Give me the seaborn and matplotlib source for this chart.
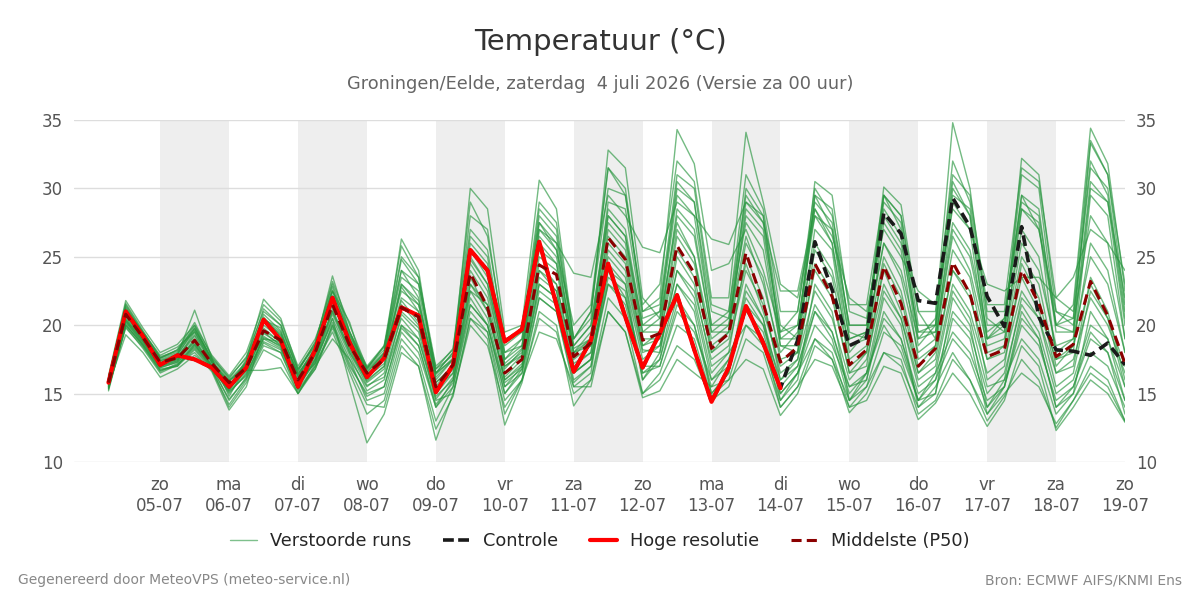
import pandas as pd
import matplotlib.pyplot as plt
import seaborn as sns
from matplotlib.lines import Line2D

# tijdstappen van 6 uur: za 4 juli 06 uur t/m zo 19 juli 00 uur
start = '2026-07-04 06:00'
n_stappen = 60
dagnamen = ['ma', 'di', 'wo', 'do', 'vr', 'za', 'zo']

# Hoge resolutie (loopt tot 14 juli 00 uur)
hoge_resolutie = [15.8, 21.0, 19.2, 17.1, 17.8, 17.5, 16.9, 15.5, 16.9, 20.4,
                  18.9, 15.5, 18.2, 22.0, 18.7, 16.2, 17.6, 21.3, 20.7, 15.1,
                  17.1, 25.5, 24.0, 18.8, 19.7, 26.1, 21.5, 16.6, 18.9, 24.5,
                  20.6, 16.9, 19.4, 22.2, 18.2, 14.4, 16.9, 21.4, 18.7, 15.4]

controle = [15.8, 21.0, 19.2, 17.1, 17.8, 17.5, 16.9, 15.5, 16.9, 20.4,
            18.9, 15.5, 18.2, 22.0, 18.7, 16.2, 17.6, 21.3, 20.7, 15.1,
            17.1, 25.5, 24.0, 18.8, 19.7, 26.1, 21.5, 16.6, 18.9, 24.5,
            20.6, 16.9, 19.4, 22.2, 18.2, 14.4, 16.9, 21.4, 18.7, 15.4,
            18.9, 26.1, 22.6, 18.5, 19.1, 28.2, 26.7, 21.8, 21.6, 29.3,
            27.2, 22.1, 19.9, 27.2, 20.6, 18.2, 18.1, 17.8, 18.7, 17.1]

middelste = [15.8, 20.8, 19.1, 17.3, 17.6, 18.9, 17.2, 15.8, 16.9, 19.6,
             18.9, 16.0, 18.0, 21.5, 18.5, 16.5, 17.5, 21.3, 20.6, 15.5,
             17.1, 23.8, 21.3, 16.5, 17.5, 24.4, 23.7, 17.7, 18.7, 26.4,
             24.8, 18.9, 19.4, 25.8, 23.8, 18.3, 19.4, 25.3, 21.6, 17.3,
             18.4, 24.5, 22.1, 17.1, 18.2, 24.3, 21.6, 17.0, 18.3, 24.6,
             22.3, 17.7, 18.2, 24.0, 21.6, 17.7, 18.6, 23.2, 20.7, 17.2]

# verstoorde runs (per dag: 06, 12, 18, 00 uur)
run_01 = [16.2, 21.6, 19.6, 17.6, 18.2, 19.8, 17.5, 15.2, 17.4, 21.2, 20.0, 16.6, 18.8, 23.0, 19.5, 16.8, 18.5, 25.8, 23.5, 16.5,
          18.0, 28.0, 27.0, 18.5, 19.5, 29.0, 27.5, 19.0, 21.0, 31.5, 30.0, 21.0, 22.0, 34.3, 31.8, 24.0, 24.5, 27.0, 24.0, 19.5,
          20.0, 28.5, 26.0, 18.0, 19.5, 26.0, 24.0, 19.0, 20.5, 34.8, 30.0, 20.5, 19.5, 27.0, 25.0, 18.0, 19.0, 30.0, 29.0, 22.0]
run_02 = [15.2, 20.0, 18.6, 16.8, 17.0, 18.5, 17.0, 15.0, 16.5, 19.0, 18.8, 16.0, 17.2, 20.5, 15.8, 11.4, 13.5, 18.0, 17.0, 11.6,
          15.0, 20.5, 19.0, 12.7, 15.8, 21.0, 20.0, 14.1, 16.0, 22.0, 20.5, 15.0, 16.0, 18.5, 17.5, 14.5, 15.5, 19.0, 18.0, 14.0,
          15.5, 17.5, 17.0, 14.0, 14.5, 17.0, 16.5, 13.1, 14.3, 16.5, 15.0, 12.6, 14.5, 18.5, 17.0, 12.3, 14.0, 16.0, 15.0, 12.9]
run_03 = [15.6, 19.3, 18.0, 16.2, 16.8, 17.8, 16.8, 16.0, 16.7, 16.7, 16.9, 15.0, 17.0, 19.0, 17.5, 14.5, 15.0, 19.5, 18.0, 14.0,
          16.0, 21.5, 20.0, 15.5, 16.5, 23.0, 22.0, 16.5, 17.5, 24.0, 22.0, 16.5, 17.5, 22.0, 20.0, 15.0, 16.5, 22.5, 20.5, 15.5,
          17.0, 21.5, 19.5, 15.0, 16.5, 20.5, 19.0, 14.5, 16.0, 19.0, 17.5, 14.0, 15.5, 20.0, 18.5, 14.5, 15.5, 19.5, 18.0, 13.5]
run_04 = [16.0, 21.0, 19.3, 17.4, 17.8, 21.1, 17.6, 14.8, 17.0, 20.5, 19.5, 16.3, 18.2, 22.5, 20.2, 16.2, 17.8, 24.0, 22.0, 15.8,
          17.0, 26.0, 24.5, 17.0, 17.8, 27.0, 26.0, 18.0, 19.0, 29.0, 28.5, 20.5, 21.0, 30.5, 29.0, 20.0, 20.0, 28.0, 26.5, 18.5,
          18.0, 29.5, 27.0, 19.0, 19.5, 30.1, 28.8, 21.0, 19.0, 27.0, 25.0, 19.0, 19.5, 32.2, 31.0, 21.0, 20.0, 28.0, 26.0, 19.0]
run_05 = [15.4, 19.8, 18.4, 16.6, 17.2, 18.0, 16.6, 13.8, 15.5, 19.5, 18.5, 15.2, 16.8, 20.0, 17.0, 15.0, 15.5, 20.0, 19.0, 14.5,
          15.0, 20.0, 18.5, 14.0, 16.0, 19.5, 19.0, 15.5, 15.5, 21.0, 19.5, 14.7, 15.2, 17.5, 16.5, 15.5, 16.0, 17.5, 16.8, 13.4,
          15.0, 18.5, 17.5, 13.6, 15.0, 18.0, 17.0, 14.0, 15.5, 18.0, 16.0, 13.5, 15.0, 16.5, 15.5, 12.8, 14.5, 17.0, 16.0, 13.0]
run_06 = [15.9, 21.3, 19.4, 17.6, 18.0, 20.0, 17.4, 15.5, 17.5, 21.9, 20.5, 16.8, 18.5, 23.6, 19.5, 16.5, 18.0, 26.3, 24.0, 16.0,
          17.5, 30.0, 28.5, 19.5, 20.0, 30.6, 28.5, 19.0, 20.5, 32.8, 31.5, 22.0, 20.5, 27.5, 25.0, 18.0, 19.5, 30.0, 28.0, 20.0,
          19.0, 30.5, 29.5, 21.0, 20.5, 28.0, 26.0, 19.5, 20.0, 32.0, 29.0, 21.0, 21.0, 29.0, 28.0, 20.0, 21.5, 34.4, 31.8, 22.5]
run_07 = [15.7, 20.6, 19.0, 17.2, 17.6, 19.2, 17.2, 15.6, 16.9, 19.8, 18.7, 15.8, 17.8, 21.8, 18.5, 16.2, 17.2, 21.5, 20.0, 15.2,
          16.8, 23.5, 21.0, 16.2, 17.5, 24.5, 23.0, 17.5, 18.5, 26.0, 24.5, 18.5, 19.0, 25.5, 23.5, 18.0, 19.0, 24.5, 21.0, 17.0,
          18.0, 24.0, 22.0, 16.5, 18.0, 24.0, 21.0, 16.5, 18.0, 24.0, 22.0, 17.5, 18.0, 23.5, 21.0, 17.5, 18.5, 23.0, 20.5, 17.0]
run_08 = [16.1, 21.5, 19.5, 17.8, 18.4, 19.5, 17.3, 15.9, 17.2, 20.8, 19.6, 16.4, 18.3, 22.8, 19.0, 16.8, 18.0, 24.8, 23.0, 16.8,
          18.3, 27.0, 25.5, 18.0, 19.0, 28.0, 26.5, 19.0, 21.0, 30.0, 29.5, 21.5, 23.0, 32.0, 30.5, 22.0, 22.0, 34.1, 29.0, 23.0,
          22.0, 28.0, 27.0, 20.0, 20.0, 29.0, 27.5, 19.0, 19.5, 30.0, 28.0, 19.0, 20.5, 29.5, 27.0, 21.0, 20.5, 32.0, 29.5, 20.5]
run_09 = [15.8, 20.3, 18.8, 17.0, 17.4, 19.0, 17.0, 15.4, 16.8, 19.2, 18.4, 15.6, 17.5, 21.0, 18.0, 16.0, 17.0, 23.0, 21.5, 16.5,
          17.5, 25.0, 23.0, 18.0, 18.5, 27.5, 26.0, 23.8, 23.5, 29.5, 28.0, 25.7, 25.3, 29.0, 28.0, 26.3, 25.9, 29.0, 27.5, 22.5,
          22.5, 28.5, 26.5, 22.0, 21.0, 27.0, 25.0, 22.5, 21.5, 28.5, 27.0, 23.0, 22.5, 23.5, 23.5, 22.0, 23.5, 27.0, 26.0, 24.0]
run_10 = [15.5, 20.2, 18.7, 16.9, 17.3, 18.6, 17.0, 14.5, 16.2, 18.8, 18.2, 15.5, 17.5, 20.2, 17.5, 15.5, 16.5, 20.5, 19.0, 14.8,
          16.0, 22.0, 20.0, 15.0, 16.8, 22.5, 21.5, 16.5, 17.5, 23.0, 22.0, 17.0, 17.0, 21.0, 19.5, 16.0, 17.5, 21.5, 20.0, 15.0,
          16.5, 20.0, 18.5, 15.5, 16.0, 21.0, 19.0, 15.0, 16.0, 21.0, 19.5, 15.0, 16.5, 21.5, 19.5, 15.0, 16.0, 20.0, 19.0, 15.5]
run_11 = [16.3, 21.8, 19.8, 18.0, 18.6, 20.0, 17.8, 16.3, 18.0, 21.5, 20.3, 17.0, 19.0, 22.5, 19.5, 17.0, 18.5, 24.0, 23.0, 16.8,
          17.8, 26.5, 25.0, 17.5, 19.0, 28.5, 27.0, 18.5, 20.0, 28.0, 26.5, 20.0, 21.0, 30.0, 29.0, 21.0, 20.5, 29.0, 28.0, 19.0,
          19.0, 29.5, 28.5, 19.5, 19.0, 29.5, 28.0, 20.0, 20.0, 29.5, 28.5, 20.0, 20.0, 31.0, 30.0, 20.0, 19.5, 33.3, 31.0, 21.5]
run_12 = [15.3, 20.1, 18.5, 16.7, 17.0, 18.2, 16.7, 14.2, 16.0, 18.5, 18.0, 15.0, 17.2, 19.5, 16.5, 13.5, 14.5, 19.0, 17.5, 13.0,
          15.5, 21.0, 19.5, 14.5, 16.0, 22.0, 21.0, 15.5, 16.5, 24.5, 23.0, 16.0, 18.0, 24.0, 22.0, 16.5, 18.0, 20.0, 18.5, 14.5,
          16.5, 19.0, 18.0, 14.0, 15.5, 19.5, 18.5, 14.5, 15.0, 22.0, 20.0, 14.0, 16.0, 19.0, 17.5, 13.5, 15.0, 18.0, 17.0, 14.0]
run_13 = [16.0, 20.9, 19.2, 17.5, 17.9, 19.6, 17.5, 16.0, 17.3, 20.2, 19.3, 16.5, 18.0, 22.2, 19.0, 16.6, 17.8, 22.5, 21.5, 16.2,
          17.5, 24.5, 22.5, 17.0, 18.0, 25.5, 24.5, 18.0, 19.5, 27.5, 26.0, 19.5, 19.5, 27.0, 25.0, 19.0, 20.0, 26.5, 23.0, 18.0,
          19.5, 26.0, 24.0, 18.5, 19.0, 26.0, 23.5, 18.0, 19.0, 26.5, 24.0, 18.5, 19.0, 26.0, 24.0, 18.5, 19.0, 25.0, 23.0, 18.0]
run_14 = [15.6, 20.5, 18.9, 17.1, 17.5, 18.8, 17.1, 15.3, 16.6, 19.4, 18.6, 15.9, 17.6, 21.2, 18.2, 15.8, 16.8, 21.0, 19.8, 15.0,
          16.5, 23.0, 21.0, 16.0, 17.0, 23.5, 22.5, 17.0, 18.0, 25.0, 23.5, 18.0, 18.5, 24.0, 22.5, 17.5, 18.5, 24.0, 21.5, 16.5,
          17.5, 22.5, 20.5, 16.0, 17.5, 23.0, 20.5, 16.0, 17.0, 23.0, 21.0, 16.5, 17.5, 22.5, 20.5, 16.5, 17.5, 22.0, 20.0, 16.5]
run_15 = [15.8, 20.7, 19.1, 17.3, 17.7, 19.3, 17.3, 15.7, 17.0, 20.0, 19.0, 16.2, 18.2, 21.5, 18.8, 16.3, 17.5, 22.0, 21.0, 15.8,
          17.0, 24.0, 22.0, 16.5, 17.8, 25.0, 24.0, 17.8, 19.0, 26.5, 25.0, 18.5, 19.5, 28.5, 27.0, 19.5, 20.5, 27.5, 25.5, 18.5,
          18.5, 27.0, 25.5, 17.0, 18.0, 27.5, 25.5, 17.5, 18.5, 29.0, 27.0, 18.0, 18.5, 28.5, 27.5, 17.5, 18.0, 29.5, 28.0, 19.0]
run_16 = [15.5, 20.4, 18.8, 17.0, 17.4, 18.9, 17.0, 15.1, 16.4, 19.0, 18.3, 15.4, 17.4, 20.8, 18.0, 15.6, 16.2, 20.0, 18.5, 14.2,
          15.8, 22.5, 20.5, 15.5, 17.0, 24.0, 22.5, 16.0, 17.0, 23.5, 22.5, 16.0, 17.5, 23.0, 21.0, 15.0, 16.5, 23.0, 20.5, 14.5,
          16.0, 23.0, 21.0, 14.5, 16.0, 22.0, 20.0, 14.0, 15.0, 20.5, 19.0, 13.5, 15.5, 21.0, 19.0, 14.0, 15.0, 21.0, 19.0, 14.5]
run_17 = [16.0, 21.2, 19.5, 17.7, 18.1, 19.7, 17.6, 16.2, 17.6, 20.4, 19.8, 16.7, 18.6, 22.0, 19.2, 16.9, 18.2, 23.5, 22.5, 16.5,
          18.0, 25.5, 24.0, 17.5, 18.5, 26.5, 25.0, 18.5, 20.0, 28.5, 27.0, 20.0, 20.0, 28.0, 26.5, 19.5, 19.5, 28.5, 27.0, 19.5,
          21.0, 29.0, 27.5, 20.0, 20.0, 29.5, 27.0, 19.5, 19.5, 27.5, 25.5, 19.5, 20.5, 28.5, 27.0, 20.0, 20.5, 31.5, 30.0, 21.0]
run_18 = [15.4, 19.9, 18.3, 16.5, 17.1, 18.3, 16.8, 14.0, 15.8, 18.2, 17.5, 15.0, 16.8, 19.8, 16.8, 14.2, 14.0, 18.5, 17.0, 12.4,
          14.8, 20.5, 19.5, 13.5, 16.0, 20.5, 19.5, 15.0, 16.0, 21.0, 19.5, 15.0, 16.5, 20.0, 19.0, 14.8, 16.0, 20.0, 19.0, 14.0,
          15.5, 19.0, 17.5, 14.5, 15.5, 18.0, 17.5, 13.5, 14.5, 17.5, 16.0, 13.0, 14.8, 17.5, 16.0, 12.5, 14.5, 16.5, 15.5, 13.0]
run_19 = [15.7, 20.8, 19.0, 17.2, 17.6, 19.5, 17.3, 15.9, 17.1, 20.6, 19.2, 16.2, 18.1, 22.0, 18.8, 16.4, 17.6, 22.8, 21.0, 15.5,
          17.2, 24.8, 23.0, 16.8, 18.2, 26.0, 24.5, 18.0, 18.5, 27.0, 25.5, 19.0, 19.0, 26.5, 24.5, 18.5, 19.5, 26.0, 23.5, 17.5,
          18.0, 25.5, 23.5, 17.5, 18.5, 25.0, 22.5, 17.0, 18.5, 25.5, 23.5, 17.5, 18.5, 25.0, 23.0, 17.0, 18.5, 26.0, 24.0, 18.0]
run_20 = [15.6, 20.4, 18.9, 17.1, 17.5, 18.7, 17.0, 15.4, 16.7, 19.6, 18.8, 15.8, 17.8, 21.0, 18.3, 15.9, 17.0, 21.8, 20.2, 15.4,
          16.5, 22.5, 21.5, 16.0, 17.2, 24.0, 23.0, 17.2, 18.0, 25.5, 24.0, 18.2, 18.0, 25.0, 23.0, 17.0, 18.0, 25.0, 22.0, 16.0,
          17.5, 24.5, 22.5, 16.5, 17.0, 24.5, 22.0, 16.5, 17.5, 24.0, 22.5, 16.0, 17.0, 24.5, 22.0, 16.5, 17.0, 23.5, 21.0, 16.0]
run_21 = [15.9, 21.0, 19.3, 17.4, 17.8, 19.8, 17.4, 15.6, 17.2, 20.3, 19.4, 16.4, 18.4, 22.5, 19.3, 16.7, 17.9, 23.0, 21.8, 16.4,
          17.6, 25.5, 23.5, 17.2, 18.3, 27.0, 25.5, 18.3, 19.0, 28.0, 26.5, 19.5, 20.5, 29.5, 28.0, 20.0, 21.0, 29.5, 27.5, 19.0,
          20.0, 28.0, 26.0, 19.0, 19.5, 28.5, 26.5, 18.5, 20.0, 30.5, 28.0, 19.0, 20.0, 29.5, 28.5, 19.5, 19.5, 30.5, 29.0, 20.0]
run_22 = [15.5, 20.3, 18.6, 16.9, 17.3, 18.4, 16.9, 15.2, 16.3, 19.1, 18.5, 15.6, 17.3, 20.5, 17.8, 15.2, 16.0, 20.8, 19.5, 14.6,
          16.2, 23.0, 21.5, 15.8, 16.8, 23.0, 22.0, 16.5, 17.5, 24.0, 23.0, 17.5, 18.5, 23.0, 21.5, 16.0, 17.0, 22.0, 20.0, 16.0,
          17.0, 21.0, 19.5, 15.5, 16.5, 22.5, 20.5, 15.5, 16.5, 22.5, 20.5, 15.5, 16.0, 22.0, 20.5, 15.5, 16.5, 22.5, 20.5, 15.5]
run_23 = [16.1, 21.4, 19.4, 17.6, 18.2, 20.2, 17.7, 16.1, 17.7, 21.0, 20.0, 16.8, 18.7, 23.2, 20.0, 16.9, 18.4, 25.0, 23.5, 17.0,
          18.2, 29.0, 26.5, 19.0, 19.5, 27.5, 25.5, 20.0, 21.5, 31.5, 29.5, 21.0, 21.5, 31.0, 30.0, 21.5, 21.0, 31.0, 28.5, 21.0,
          21.0, 30.0, 28.0, 21.5, 21.5, 29.5, 28.0, 21.0, 21.0, 31.0, 29.5, 21.5, 21.5, 31.5, 30.5, 22.0, 21.0, 33.5, 31.0, 23.0]
run_24 = [15.4, 20.0, 18.5, 16.7, 17.1, 18.6, 16.8, 14.6, 16.1, 18.7, 18.0, 15.3, 17.0, 20.0, 17.2, 14.8, 15.5, 19.8, 18.5, 14.0,
          15.5, 21.5, 20.0, 15.0, 16.5, 22.0, 21.0, 15.8, 17.0, 23.0, 21.5, 16.5, 17.0, 21.5, 20.0, 15.5, 17.5, 21.0, 19.5, 15.0,
          16.5, 21.0, 19.0, 14.5, 16.5, 20.0, 18.0, 14.5, 16.5, 19.5, 18.0, 14.5, 15.5, 20.5, 19.0, 14.0, 15.5, 19.0, 18.0, 14.5]

runs = [run_01, run_02, run_03, run_04, run_05, run_06, run_07, run_08,
        run_09, run_10, run_11, run_12, run_13, run_14, run_15, run_16,
        run_17, run_18, run_19, run_20, run_21, run_22, run_23, run_24]

tijd = pd.date_range(start, periods=n_stappen, freq='6h')

df_runs = pd.DataFrame({
    'tijd': list(tijd) * len(runs),
    'run': [k for k in range(len(runs)) for _ in range(n_stappen)],
    'temp': [v for r in runs for v in r],
})
df_hr = pd.DataFrame({'tijd': tijd[:len(hoge_resolutie)], 'temp': hoge_resolutie})
df_ctrl = pd.DataFrame({'tijd': tijd, 'temp': controle})
df_p50 = pd.DataFrame({'tijd': tijd, 'temp': middelste})

sns.set_style('white')
plt.rcParams['font.family'] = ['DejaVu Sans']

fig = plt.figure(figsize=(12, 6), dpi=100)
ax = fig.add_axes([0.0617, 0.23, 0.8758, 0.57])

green = '#28963f'
sns.lineplot(data=df_runs, x='tijd', y='temp', units='run', estimator=None,
             color=green, alpha=0.65, lw=1.0, ax=ax, legend=False, zorder=3)
sns.lineplot(data=df_ctrl, x='tijd', y='temp', color='#1a1a1a', lw=2.6,
             linestyle=(0, (3, 1.6)), ax=ax, zorder=4)
sns.lineplot(data=df_hr, x='tijd', y='temp', color='#ff0000', lw=3,
             ax=ax, zorder=5)
sns.lineplot(data=df_p50, x='tijd', y='temp', color='#8b0000', lw=2.2,
             linestyle=(0, (3.5, 2)), ax=ax, zorder=6)

# om en om grijze dagen
for d in pd.date_range('2026-07-05', '2026-07-17', freq='2D'):
    ax.axvspan(d, d + pd.Timedelta(days=1), color='#eeeeee', lw=0, zorder=0)

ax.set_xlim(pd.Timestamp('2026-07-03 18:00'), pd.Timestamp('2026-07-19 00:00'))
ax.set_ylim(10, 35)
ax.set_yticks(range(10, 36, 5))
dagen = pd.date_range('2026-07-05', '2026-07-19', freq='D')
ax.set_xticks(dagen)
ax.set_xticklabels([f"{dagnamen[d.weekday()]}\n{d:%d-%m}" for d in dagen])
ax.set_xlabel('')
ax.set_ylabel('')

ax.yaxis.grid(True, color='#dddddd', lw=1, zorder=1)
ax.xaxis.grid(False)
ax.set_axisbelow(True)
for s in ax.spines.values():
    s.set_visible(False)
ax.tick_params(axis='y', which='both', length=0, labelsize=12,
               labelcolor='#555555', labelright=True, pad=8)
ax.tick_params(axis='x', length=7, width=1.5, color='#666666',
               labelsize=12, labelcolor='#555555', pad=3)

fig.text(0.5, 0.93, 'Temperatuur (°C)', ha='center', va='center',
         fontsize=21, color='#333333')
fig.text(0.5, 0.86, 'Groningen/Eelde, zaterdag  4 juli 2026 (Versie za 00 uur)',
         ha='center', va='center', fontsize=12.8, color='#666666')

handles = [
    Line2D([], [], color=green, alpha=0.6, lw=1),
    Line2D([], [], color='#1a1a1a', lw=2.6, linestyle=(0, (3, 1.2))),
    Line2D([], [], color='#ff0000', lw=3),
    Line2D([], [], color='#8b0000', lw=2.2, linestyle=(0, (3.3, 1.7))),
]
labels = ['Verstoorde runs', 'Controle', 'Hoge resolutie', 'Middelste (P50)']
fig.legend(handles, labels, loc='center', bbox_to_anchor=(0.5, 0.098),
           ncol=4, frameon=False, fontsize=12.8, handlelength=1.5,
           columnspacing=1.8, handletextpad=0.75)

fig.text(0.015, 0.033, 'Gegenereerd door MeteoVPS (meteo-service.nl)',
         ha='left', va='center', fontsize=10, color='#888888')
fig.text(0.985, 0.033, 'Bron: ECMWF AIFS/KNMI Ens',
         ha='right', va='center', fontsize=10, color='#888888')

plt.savefig('out.png', dpi=100)
